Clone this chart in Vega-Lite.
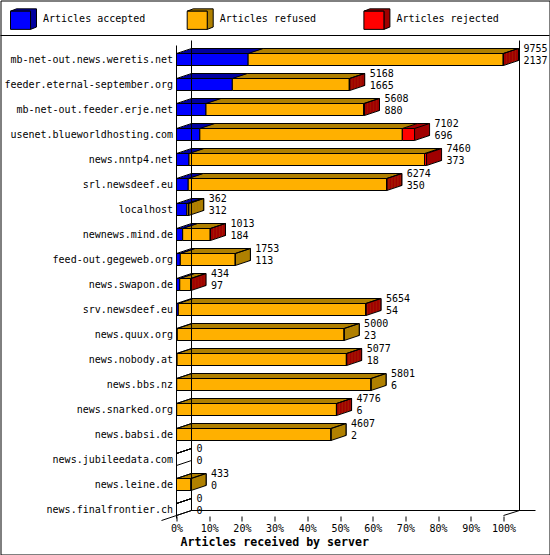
{
  "$schema": "https://vega.github.io/schema/vega-lite/v6.json",
  "width": 549,
  "height": 554,
  "autosize": {"type": "none"},
  "padding": 0.5,
  "background": "white",
  "config": {
    "font": "DejaVu Sans Mono",
    "view": {"stroke": "black", "strokeWidth": 1},
    "axis": {
      "labelFont": "DejaVu Sans Mono",
      "labelFontSize": 10,
      "labelColor": "black",
      "tickColor": "black",
      "domainColor": "black",
      "grid": false
    },
    "bar": {"opacity": 1},
    "text": {"font": "DejaVu Sans Mono", "fontSize": 10, "color": "black"},
    "rule": {"color": "black", "strokeWidth": 1}
  },
  "data": {
    "values": [
      {"server": "mb-net-out.news.weretis.net", "category": "Articles accepted", "count": 2137},
      {"server": "mb-net-out.news.weretis.net", "category": "Articles refused", "count": 7608},
      {"server": "mb-net-out.news.weretis.net", "category": "Articles rejected", "count": 10},
      {"server": "feeder.eternal-september.org", "category": "Articles accepted", "count": 1665},
      {"server": "feeder.eternal-september.org", "category": "Articles refused", "count": 3489},
      {"server": "feeder.eternal-september.org", "category": "Articles rejected", "count": 14},
      {"server": "mb-net-out.feeder.erje.net", "category": "Articles accepted", "count": 880},
      {"server": "mb-net-out.feeder.erje.net", "category": "Articles refused", "count": 4702},
      {"server": "mb-net-out.feeder.erje.net", "category": "Articles rejected", "count": 26},
      {"server": "usenet.blueworldhosting.com", "category": "Articles accepted", "count": 696},
      {"server": "usenet.blueworldhosting.com", "category": "Articles refused", "count": 6040},
      {"server": "usenet.blueworldhosting.com", "category": "Articles rejected", "count": 366},
      {"server": "news.nntp4.net", "category": "Articles accepted", "count": 373},
      {"server": "news.nntp4.net", "category": "Articles refused", "count": 7027},
      {"server": "news.nntp4.net", "category": "Articles rejected", "count": 60},
      {"server": "srl.newsdeef.eu", "category": "Articles accepted", "count": 350},
      {"server": "srl.newsdeef.eu", "category": "Articles refused", "count": 5919},
      {"server": "srl.newsdeef.eu", "category": "Articles rejected", "count": 5},
      {"server": "localhost", "category": "Articles accepted", "count": 312},
      {"server": "localhost", "category": "Articles refused", "count": 50},
      {"server": "localhost", "category": "Articles rejected", "count": 0},
      {"server": "newnews.mind.de", "category": "Articles accepted", "count": 184},
      {"server": "newnews.mind.de", "category": "Articles refused", "count": 821},
      {"server": "newnews.mind.de", "category": "Articles rejected", "count": 8},
      {"server": "feed-out.gegeweb.org", "category": "Articles accepted", "count": 113},
      {"server": "feed-out.gegeweb.org", "category": "Articles refused", "count": 1640},
      {"server": "feed-out.gegeweb.org", "category": "Articles rejected", "count": 0},
      {"server": "news.swapon.de", "category": "Articles accepted", "count": 97},
      {"server": "news.swapon.de", "category": "Articles refused", "count": 322},
      {"server": "news.swapon.de", "category": "Articles rejected", "count": 15},
      {"server": "srv.newsdeef.eu", "category": "Articles accepted", "count": 54},
      {"server": "srv.newsdeef.eu", "category": "Articles refused", "count": 5590},
      {"server": "srv.newsdeef.eu", "category": "Articles rejected", "count": 10},
      {"server": "news.quux.org", "category": "Articles accepted", "count": 23},
      {"server": "news.quux.org", "category": "Articles refused", "count": 4977},
      {"server": "news.quux.org", "category": "Articles rejected", "count": 0},
      {"server": "news.nobody.at", "category": "Articles accepted", "count": 18},
      {"server": "news.nobody.at", "category": "Articles refused", "count": 5049},
      {"server": "news.nobody.at", "category": "Articles rejected", "count": 10},
      {"server": "news.bbs.nz", "category": "Articles accepted", "count": 6},
      {"server": "news.bbs.nz", "category": "Articles refused", "count": 5795},
      {"server": "news.bbs.nz", "category": "Articles rejected", "count": 0},
      {"server": "news.snarked.org", "category": "Articles accepted", "count": 6},
      {"server": "news.snarked.org", "category": "Articles refused", "count": 4765},
      {"server": "news.snarked.org", "category": "Articles rejected", "count": 5},
      {"server": "news.babsi.de", "category": "Articles accepted", "count": 2},
      {"server": "news.babsi.de", "category": "Articles refused", "count": 4605},
      {"server": "news.babsi.de", "category": "Articles rejected", "count": 0},
      {"server": "news.jubileedata.com", "category": "Articles accepted", "count": 0},
      {"server": "news.jubileedata.com", "category": "Articles refused", "count": 0},
      {"server": "news.jubileedata.com", "category": "Articles rejected", "count": 0},
      {"server": "news.leine.de", "category": "Articles accepted", "count": 0},
      {"server": "news.leine.de", "category": "Articles refused", "count": 433},
      {"server": "news.leine.de", "category": "Articles rejected", "count": 0},
      {"server": "news.finalfrontier.ch", "category": "Articles accepted", "count": 0},
      {"server": "news.finalfrontier.ch", "category": "Articles refused", "count": 0},
      {"server": "news.finalfrontier.ch", "category": "Articles rejected", "count": 0}
    ]
  },
  "layer": [
    {
      "encoding": {
        "y": {
          "field": "server",
          "type": "nominal",
          "scale": {
            "domain": [
              "mb-net-out.news.weretis.net", "feeder.eternal-september.org", "mb-net-out.feeder.erje.net",
              "usenet.blueworldhosting.com", "news.nntp4.net", "srl.newsdeef.eu", "localhost",
              "newnews.mind.de", "feed-out.gegeweb.org", "news.swapon.de", "srv.newsdeef.eu",
              "news.quux.org", "news.nobody.at", "news.bbs.nz", "news.snarked.org", "news.babsi.de",
              "news.jubileedata.com", "news.leine.de", "news.finalfrontier.ch"
            ],
            "range": [46.5, 521.5],
            "paddingInner": 0,
            "paddingOuter": 0
          },
          "axis": {
            "orient": "left",
            "offset": -176,
            "domain": false,
            "ticks": false,
            "labelPadding": 4,
            "labelLimit": 300,
            "title": null
          }
        },
        "x": {
          "field": "count",
          "type": "quantitative",
          "stack": "zero",
          "scale": {"domain": [0, 9755], "range": [176, 503], "nice": false},
          "axis": {
            "orient": "bottom",
            "offset": -38.5,
            "domain": false,
            "tickSize": 5,
            "labelPadding": 2,
            "labelFlush": false,
            "labelOverlap": false,
            "values": [0, 975.5, 1951, 2926.5, 3902, 4877.5, 5853, 6828.5, 7804, 8779.5, 9755],
            "labelExpr": "format(datum.value / 9755, '.0%')",
            "title": "Articles received by server",
            "titleFont": "DejaVu Sans Mono",
            "titleFontSize": 11.6,
            "titleFontWeight": "bold",
            "titleColor": "black",
            "titleAlign": "left",
            "titleBaseline": "middle",
            "titleX": 179.5,
            "titleY": 26
          }
        },
        "order": {"field": "category", "type": "ordinal", "sort": "ascending"}
      },
      "layer": [
        {
          "mark": {"type": "bar", "height": 12, "xOffset": 15, "yOffset": -5, "stroke": "black", "strokeWidth": 1, "opacity": 1},
          "encoding": {
            "fill": {
              "field": "category",
              "type": "nominal",
              "scale": {"range": ["#0000a0", "#b08000", "#a00000"]},
              "legend": {
                "orient": "none",
                "legendX": 9.5,
                "legendY": 5,
                "direction": "horizontal",
                "columns": 3,
                "gridAlign": "all",
                "columnPadding": 38.7,
                "padding": 0,
                "title": null,
                "symbolType": "M-1,-0.61L-0.54,-0.79L1,-0.79L1,0.61L0.54,0.79L0.54,-0.61Z",
                "symbolSize": 676,
                "symbolStrokeColor": "black",
                "symbolStrokeWidth": 1,
                "symbolOpacity": 1,
                "labelFont": "DejaVu Sans Mono",
                "labelFontSize": 10,
                "labelOffset": 6,
                "labelColor": "rgba(0,0,0,0)"
              }
            }
          }
        },
        {"mark": {"type": "bar", "height": 12, "xOffset": 13.5, "yOffset": -4.5, "strokeWidth": 0, "opacity": 1}, "encoding": {"fill": {"field": "category", "type": "nominal"}}},
        {"mark": {"type": "bar", "height": 12, "xOffset": 12, "yOffset": -4, "strokeWidth": 0, "opacity": 1}, "encoding": {"fill": {"field": "category", "type": "nominal"}}},
        {"mark": {"type": "bar", "height": 12, "xOffset": 10.5, "yOffset": -3.5, "strokeWidth": 0, "opacity": 1}, "encoding": {"fill": {"field": "category", "type": "nominal"}}},
        {"mark": {"type": "bar", "height": 12, "xOffset": 9, "yOffset": -3, "strokeWidth": 0, "opacity": 1}, "encoding": {"fill": {"field": "category", "type": "nominal"}}},
        {"mark": {"type": "bar", "height": 12, "xOffset": 7.5, "yOffset": -2.5, "strokeWidth": 0, "opacity": 1}, "encoding": {"fill": {"field": "category", "type": "nominal"}}},
        {"mark": {"type": "bar", "height": 12, "xOffset": 6, "yOffset": -2, "strokeWidth": 0, "opacity": 1}, "encoding": {"fill": {"field": "category", "type": "nominal"}}},
        {"mark": {"type": "bar", "height": 12, "xOffset": 4.5, "yOffset": -1.5, "strokeWidth": 0, "opacity": 1}, "encoding": {"fill": {"field": "category", "type": "nominal"}}},
        {"mark": {"type": "bar", "height": 12, "xOffset": 3, "yOffset": -1, "strokeWidth": 0, "opacity": 1}, "encoding": {"fill": {"field": "category", "type": "nominal"}}},
        {"mark": {"type": "bar", "height": 12, "xOffset": 1.5, "yOffset": -0.5, "strokeWidth": 0, "opacity": 1}, "encoding": {"fill": {"field": "category", "type": "nominal"}}}
      ]
    },
    {
      "transform": [
        {"joinaggregate": [{"op": "sum", "field": "count", "as": "total"}], "groupby": ["server"]},
        {"filter": "datum.count > 0"},
        {"window": [{"op": "row_number", "as": "rank"}], "groupby": ["server"], "sort": [{"field": "category", "order": "descending"}]},
        {"filter": "datum.rank === 1"}
      ],
      "encoding": {
        "y": {"field": "server", "type": "nominal"},
        "x": {"field": "total", "type": "quantitative"},
        "x2": {"field": "total"},
        "fill": {"field": "category", "type": "nominal"}
      },
      "layer": [
        {"mark": {"type": "bar", "height": 12, "xOffset": 0, "x2Offset": 1.5, "yOffset": -0.5, "strokeWidth": 0, "opacity": 1}},
        {"mark": {"type": "bar", "height": 12, "xOffset": 1.5, "x2Offset": 3, "yOffset": -1, "strokeWidth": 0, "opacity": 1}},
        {"mark": {"type": "bar", "height": 12, "xOffset": 3, "x2Offset": 4.5, "yOffset": -1.5, "strokeWidth": 0, "opacity": 1}},
        {"mark": {"type": "bar", "height": 12, "xOffset": 4.5, "x2Offset": 6, "yOffset": -2, "strokeWidth": 0, "opacity": 1}},
        {"mark": {"type": "bar", "height": 12, "xOffset": 6, "x2Offset": 7.5, "yOffset": -2.5, "strokeWidth": 0, "opacity": 1}},
        {"mark": {"type": "bar", "height": 12, "xOffset": 7.5, "x2Offset": 9, "yOffset": -3, "strokeWidth": 0, "opacity": 1}},
        {"mark": {"type": "bar", "height": 12, "xOffset": 9, "x2Offset": 10.5, "yOffset": -3.5, "strokeWidth": 0, "opacity": 1}},
        {"mark": {"type": "bar", "height": 12, "xOffset": 10.5, "x2Offset": 12, "yOffset": -4, "strokeWidth": 0, "opacity": 1}},
        {"mark": {"type": "bar", "height": 12, "xOffset": 12, "x2Offset": 13.5, "yOffset": -4.5, "strokeWidth": 0, "opacity": 1}},
        {"mark": {"type": "bar", "height": 12, "xOffset": 13.5, "x2Offset": 14.5, "yOffset": -5, "strokeWidth": 0, "opacity": 1}}
      ]
    },
    {
      "mark": {"type": "bar", "height": 12, "stroke": "black", "strokeWidth": 1, "opacity": 1},
      "encoding": {
        "y": {"field": "server", "type": "nominal"},
        "x": {"field": "count", "type": "quantitative", "stack": "zero"},
        "order": {"field": "category", "type": "ordinal", "sort": "ascending"},
        "color": {
          "field": "category",
          "type": "nominal",
          "scale": {
            "domain": ["Articles accepted", "Articles refused", "Articles rejected"],
            "range": ["#0000ff", "#ffb000", "#ff0000"]
          },
          "legend": {
            "orient": "none",
            "legendX": 9.5,
            "legendY": 5,
            "direction": "horizontal",
            "columns": 3,
            "gridAlign": "all",
            "columnPadding": 38.7,
            "padding": 0,
            "title": null,
            "symbolType": "M-1,-0.61L0.54,-0.61L0.54,0.79L-1,0.79Z",
            "symbolSize": 676,
            "symbolStrokeColor": "black",
            "symbolStrokeWidth": 1,
            "symbolOpacity": 1,
            "labelFont": "DejaVu Sans Mono",
            "labelFontSize": 10,
            "labelOffset": 6,
            "labelColor": "black"
          }
        }
      }
    },
    {
      "transform": [
        {"stack": "count", "groupby": ["server"], "sort": [{"field": "category", "order": "ascending"}], "as": ["s0", "s1"]}
      ],
      "mark": {"type": "rule", "x2Offset": 15, "yOffset": -6, "y2Offset": -11},
      "encoding": {
        "x": {"field": "s1", "type": "quantitative"},
        "x2": {"field": "s1"},
        "y": {"field": "server", "type": "nominal"},
        "y2": {"field": "server"}
      }
    },
    {
      "transform": [
        {"joinaggregate": [{"op": "sum", "field": "count", "as": "total"}], "groupby": ["server"]},
        {"filter": "datum.category === 'Articles accepted'"}
      ],
      "layer": [
        {
          "mark": {"type": "rule", "x2Offset": 15, "yOffset": -6, "y2Offset": -11},
          "encoding": {
            "x": {"datum": 0},
            "x2": {"datum": 0},
            "y": {"field": "server", "type": "nominal"},
            "y2": {"field": "server"}
          }
        },
        {
          "mark": {"type": "rule", "x2Offset": 15, "yOffset": 6, "y2Offset": 1},
          "encoding": {
            "x": {"field": "total", "type": "quantitative"},
            "x2": {"field": "total"},
            "y": {"field": "server", "type": "nominal"},
            "y2": {"field": "server"}
          }
        },
        {
          "mark": {"type": "text", "align": "left", "baseline": "middle", "xOffset": 20, "yOffset": -10.5},
          "encoding": {
            "x": {"field": "total", "type": "quantitative"},
            "y": {"field": "server", "type": "nominal"},
            "text": {"field": "total", "type": "quantitative", "format": "d"}
          }
        },
        {
          "mark": {"type": "text", "align": "left", "baseline": "middle", "xOffset": 20, "yOffset": 1},
          "encoding": {
            "x": {"field": "total", "type": "quantitative"},
            "y": {"field": "server", "type": "nominal"},
            "text": {"field": "count", "type": "quantitative", "format": "d"}
          }
        }
      ]
    },
    {
      "transform": [{"aggregate": [{"op": "count", "as": "n"}]}],
      "layer": [
        {"mark": {"type": "rule", "yOffset": -24}, "encoding": {"y": {"datum": "mb-net-out.news.weretis.net"}}},
        {
          "mark": {"type": "rule", "yOffset": -14, "y2Offset": 9},
          "encoding": {"x": {"datum": 0}, "y": {"datum": "mb-net-out.news.weretis.net"}, "y2": {"datum": "news.finalfrontier.ch"}}
        },
        {
          "mark": {"type": "rule", "xOffset": 15, "yOffset": -19, "y2Offset": 1},
          "encoding": {"x": {"datum": 0}, "y": {"datum": "mb-net-out.news.weretis.net"}, "y2": {"datum": "news.finalfrontier.ch"}}
        },
        {
          "mark": {"type": "rule", "xOffset": 16, "yOffset": -19, "y2Offset": 1},
          "encoding": {"x": {"datum": 9755}, "y": {"datum": "mb-net-out.news.weretis.net"}, "y2": {"datum": "news.finalfrontier.ch"}}
        },
        {
          "mark": {"type": "rule", "xOffset": 15, "x2Offset": 32, "yOffset": 1},
          "encoding": {"x": {"datum": 0}, "x2": {"datum": 9755}, "y": {"datum": "news.finalfrontier.ch"}}
        },
        {
          "mark": {"type": "rule", "xOffset": -15, "x2Offset": 15, "yOffset": 11, "y2Offset": 1},
          "encoding": {"x": {"datum": 0}, "x2": {"datum": 0}, "y": {"datum": "news.finalfrontier.ch"}, "y2": {"datum": "news.finalfrontier.ch"}}
        },
        {
          "mark": {"type": "rule", "x2Offset": 16, "yOffset": 6, "y2Offset": 1},
          "encoding": {"x": {"datum": 9755}, "x2": {"datum": 9755}, "y": {"datum": "news.finalfrontier.ch"}, "y2": {"datum": "news.finalfrontier.ch"}}
        }
      ]
    }
  ]
}
